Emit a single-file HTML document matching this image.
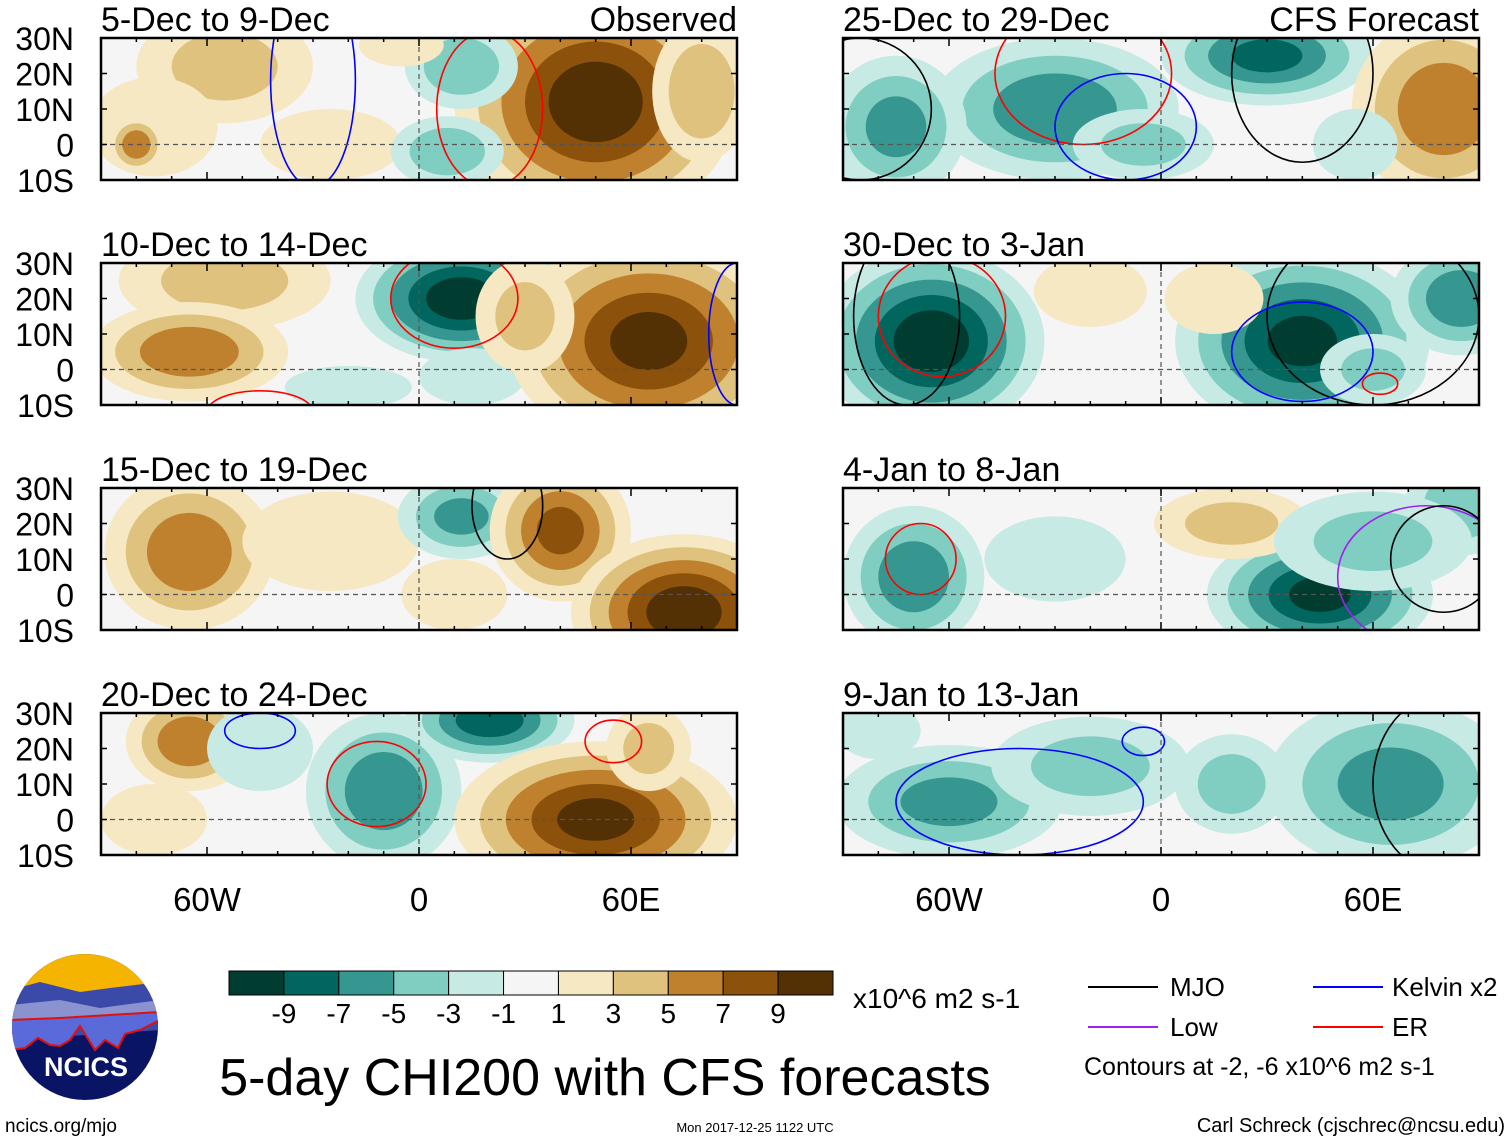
<!DOCTYPE html>
<html><head><meta charset="utf-8"><style>
html,body{margin:0;padding:0;background:#fff;width:1510px;height:1142px;overflow:hidden;font-family:"Liberation Sans",sans-serif}
svg{display:block}
</style></head><body>
<svg id="chart" width="1510" height="1142" viewBox="0 0 1510 1142" xmlns="http://www.w3.org/2000/svg">
<g id="panels"></g>
<g id="colorbar"></g>
<g>
 <clipPath id="logoclip"><circle cx="85" cy="1027" r="73"/></clipPath>
 <g clip-path="url(#logoclip)">
  <rect x="10" y="950" width="150" height="160" fill="#0a1464"/>
  <rect x="10" y="950" width="150" height="50" fill="#f5b400"/>
  <path d="M10 990 L40 982 L80 992 L110 988 L160 982 L160 1030 L10 1040Z" fill="#3b4aa8"/>
  <path d="M10 1005 L60 1000 L100 1008 L160 1000 L160 1020 L10 1030Z" fill="#8a92d0"/>
  <path d="M10 1020 L60 1018 L160 1012 L160 1020 L150 1025 L140 1030 L125 1034 L118 1048 L105 1040 L95 1050 L80 1026 L70 1040 L60 1046 L50 1045 L45 1042 L38 1038 L25 1048 L10 1050Z" fill="#5a6ad8" stroke="#e01010" stroke-width="2"/>
 </g>
 <text x="86" y="1076" font-size="27" font-weight="bold" fill="#fff" text-anchor="middle">NCICS</text>
</g>
<text x="5" y="1132" font-size="19">ncics.org/mjo</text>
<text x="605" y="1095" font-size="52" text-anchor="middle">5-day CHI200 with CFS forecasts</text>
<text x="755" y="1132" font-size="13" text-anchor="middle">Mon 2017-12-25 1122 UTC</text>
<text x="1505" y="1132" font-size="20" text-anchor="end">Carl Schreck (cjschrec@ncsu.edu)</text>
<text x="853" y="1008" font-size="28">x10^6 m2 s-1</text>
<g>
 <line x1="1088" y1="987" x2="1158" y2="987" stroke="#000" stroke-width="2"/><text x="1170" y="996" font-size="26">MJO</text>
 <line x1="1313" y1="987" x2="1383" y2="987" stroke="#0000ff" stroke-width="2"/><text x="1392" y="996" font-size="26">Kelvin x2</text>
 <line x1="1088" y1="1027" x2="1158" y2="1027" stroke="#a020f0" stroke-width="2"/><text x="1170" y="1036" font-size="26">Low</text>
 <line x1="1313" y1="1027" x2="1383" y2="1027" stroke="#ff0000" stroke-width="2"/><text x="1392" y="1036" font-size="26">ER</text>
 <text x="1084" y="1075" font-size="25">Contours at -2, -6 x10^6 m2 s-1</text>
</g>
</svg>
<script>
const levels=[-9,-7,-5,-3,-1,1,3,5,7,9];
const colors=["#003c30","#01665e","#35978f","#80cdc1","#c7eae5","#f5f5f5","#f6e8c3","#dfc27d","#bf812d","#8c510a","#543005"];
const latTicks=[30,20,10,0,-10];
const latLabels=["30N","20N","10N","0","10S"];
const lonTicks=[-60,0,60];
const lonLabels=["60W","0","60E"];
const titles=["5-Dec to 9-Dec","10-Dec to 14-Dec","15-Dec to 19-Dec","20-Dec to 24-Dec","25-Dec to 29-Dec","30-Dec to 3-Jan","4-Jan to 8-Jan","9-Jan to 13-Jan"];
// blobs: [lon, lat, value, rlon, rlat]
const blobs=[
 [[-55,22,3,25,16],[-75,5,2,18,14],[-25,0,2,20,10],[50,12,10,40,34],[12,22,-4,16,12],[8,-2,-4,16,10],[-80,0,6,8,8],[80,15,4,14,20],[-5,28,2,12,6]],
 [[-55,25,3,30,14],[-65,5,6,28,14],[12,20,-10,30,18],[15,-2,-2,15,8],[65,8,9,40,30],[30,15,3,14,16],[-20,-5,-2,18,6]],
 [[-65,12,6,24,22],[-25,15,2,25,14],[12,22,-5,18,12],[40,18,7,20,20],[75,-5,10,32,22],[10,0,2,15,10]],
 [[-65,22,6,18,14],[-75,0,2,15,10],[-10,8,-6,22,22],[-45,20,-2,15,12],[20,28,-8,24,12],[50,0,9,40,22],[65,20,3,12,12]],
 [[-30,10,-6,35,20],[30,25,-7,30,14],[-75,5,-5,20,20],[-5,0,-3,20,10],[80,10,6,26,26],[55,0,-2,12,10]],
 [[-65,8,-10,32,26],[40,8,-9,36,26],[85,20,-6,20,16],[-20,22,2,16,10],[15,20,2,14,10],[60,0,-3,15,10]],
 [[-70,5,-6,20,20],[45,0,-9,32,18],[20,20,3,22,10],[85,25,-4,16,14],[60,15,-3,28,14],[-30,10,-1,20,12]],
 [[-60,5,-5,32,16],[65,10,-5,35,24],[-20,15,-3,28,14],[20,10,-3,16,14],[-80,25,-1,12,8]]
];
// contours: [lon, lat, rlon, rlat, color]
const contours=[
 [[20,10,15,22,"#f00"],[-30,18,12,30,"#00f"]],
 [[10,20,18,14,"#f00"],[-45,-12,15,6,"#f00"],[90,10,8,20,"#00f"]],
 [[25,25,10,15,"#000"]],
 [[-12,10,14,12,"#f00"],[-45,25,10,5,"#00f"],[55,22,8,6,"#f00"]],
 [[-22,20,25,20,"#f00"],[-10,5,20,15,"#00f"],[40,20,20,25,"#000"],[-85,10,20,20,"#000"]],
 [[-62,15,18,17,"#f00"],[-72,15,15,25,"#000"],[60,15,30,25,"#000"],[40,5,20,14,"#00f"],[62,-4,5,3,"#f00"]],
 [[-68,10,10,10,"#f00"],[75,5,25,20,"#a020f0"],[80,10,15,15,"#000"]],
 [[-40,5,35,15,"#00f"],[-5,22,6,4,"#00f"],[80,10,20,25,"#000"]]
];
const PW=636,PH=142;
const panelX=[101,843];
const panelY=[38,263,488,713];
const svg=document.getElementById('panels');
const NS="http://www.w3.org/2000/svg";
function mk(t,a,p){const e=document.createElementNS(NS,t);for(const k in a)e.setAttribute(k,a[k]);p.appendChild(e);return e;}
function xs(lon,x0){return x0+(lon+90)/180*PW;}
function ys(lat,y0){return y0+(30-lat)/40*PH;}
function colorFor(v){let i=0;while(i<levels.length&&v>levels[i])i++;return colors[i];}
for(let p=0;p<8;p++){
 const col=p<4?0:1,row=p%4,x0=panelX[col],y0=panelY[row];
 const g=mk('g',{},svg);
 
 
 const cp=mk('clipPath',{id:'cp'+p},g);mk('rect',{x:x0,y:y0,width:PW,height:PH},cp);
 const inner=mk('g',{'clip-path':'url(#cp'+p+')'},g);
 mk('rect',{x:x0,y:y0,width:PW,height:PH,fill:colors[5]},inner);
 for(const b of blobs[p]){
  const [lon,lat,v,rl,rt]=b, s=Math.sign(v), n=Math.abs(v);
  for(let t=1;t<=n;t+=2){
   const f=1-(t-1)/(n+2);
   const e=mk('ellipse',{cx:xs(lon,x0),cy:ys(lat,y0),rx:rl*f/180*PW,ry:rt*f/40*PH,fill:colorFor(s*(t+1))},inner);
   
   
  }
 }
 for(const c of contours[p]){
  const e=mk('ellipse',{cx:xs(c[0],x0),cy:ys(c[1],y0),rx:c[2]/180*PW,ry:c[3]/40*PH,fill:'none',stroke:c[4],'stroke-width':1.6},inner);
  
  
 }
 mk('line',{x1:x0,x2:x0+PW,y1:ys(0,y0),y2:ys(0,y0),stroke:'#555','stroke-dasharray':'5,4','stroke-width':1.2},g);
 mk('line',{x1:xs(0,x0),x2:xs(0,x0),y1:y0,y2:y0+PH,stroke:'#555','stroke-dasharray':'5,4','stroke-width':1.2},g);
 const fr=mk('rect',{x:x0,y:y0,width:PW,height:PH,fill:'none',stroke:'#000','stroke-width':2.5},g);
 
 
 for(let lon=-90;lon<=90;lon+=10){const X=xs(lon,x0),L=(lon%60===0)?8:4;
  mk('line',{x1:X,x2:X,y1:y0,y2:y0+L,stroke:'#000','stroke-width':1.5},g);
  mk('line',{x1:X,x2:X,y1:y0+PH,y2:y0+PH-L,stroke:'#000','stroke-width':1.5},g);}
 for(let lat=-10;lat<=30;lat+=10){const Y=ys(lat,y0);
  mk('line',{x1:x0,x2:x0+6,y1:Y,y2:Y,stroke:'#000','stroke-width':1.5},g);
  mk('line',{x1:x0+PW,x2:x0+PW-6,y1:Y,y2:Y,stroke:'#000','stroke-width':1.5},g);}
 const tt=mk('text',{x:x0,y:y0-7,'font-size':34},g);tt.textContent=titles[p];
 
 
 if(row===0){const lt=mk('text',{x:x0+PW,y:y0-7,'font-size':34,'text-anchor':'end'},g);lt.textContent=col===0?'Observed':'CFS Forecast';
  
  }
 if(col===0){latTicks.forEach((lat,i)=>{const t=mk('text',{x:74,y:ys(lat,y0)+12,'font-size':32,'text-anchor':'end'},g);t.textContent=latLabels[i];
  
  });}
 if(row===3){lonTicks.forEach((lon,i)=>{const t=mk('text',{x:xs(lon,x0),y:911,'font-size':33,'text-anchor':'middle'},g);t.textContent=lonLabels[i];
  
  });}
}
const cb=document.getElementById('colorbar');
const bw=604/colors.length;
colors.forEach((c,i)=>{const r=mk('rect',{x:229+i*bw,y:971,width:bw,height:24,fill:c,stroke:'#000','stroke-width':1},cb);
 
 });
levels.forEach((v,i)=>{const t=mk('text',{x:229+(i+1)*bw,y:1023,'font-size':28,'text-anchor':'middle'},cb);t.textContent=v;
 
 });
</script>
</body></html>
